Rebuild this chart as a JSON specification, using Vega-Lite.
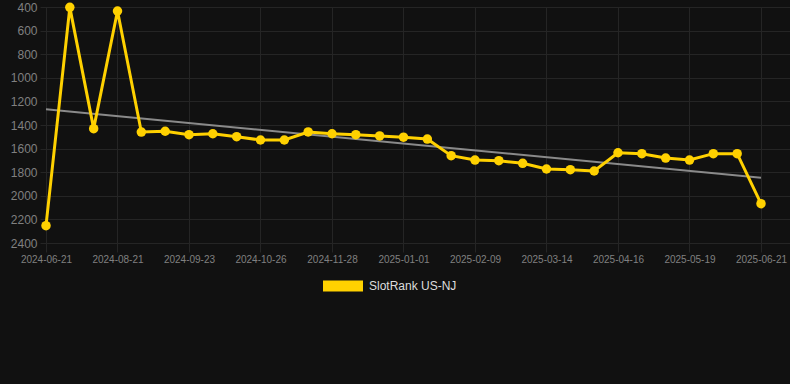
{
  "$schema": "https://vega.github.io/schema/vega-lite/v6.json",
  "width": 750,
  "height": 236,
  "autosize": {"type": "none"},
  "padding": {"left": 40, "top": 7, "right": 0, "bottom": 141},
  "background": "#111111",
  "config": {
    "view": {"stroke": null},
    "font": "Arial, Liberation Sans, sans-serif"
  },
  "datasets": {
    "ranks": [
      {"date": "2024-06-21", "rank": 2253, "series": "SlotRank US-NJ"},
      {"date": "2024-07-11", "rank": 403, "series": "SlotRank US-NJ"},
      {"date": "2024-08-01", "rank": 1431, "series": "SlotRank US-NJ"},
      {"date": "2024-08-21", "rank": 434, "series": "SlotRank US-NJ"},
      {"date": "2024-09-01", "rank": 1460, "series": "SlotRank US-NJ"},
      {"date": "2024-09-12", "rank": 1453, "series": "SlotRank US-NJ"},
      {"date": "2024-09-23", "rank": 1482, "series": "SlotRank US-NJ"},
      {"date": "2024-10-04", "rank": 1474, "series": "SlotRank US-NJ"},
      {"date": "2024-10-15", "rank": 1499, "series": "SlotRank US-NJ"},
      {"date": "2024-10-26", "rank": 1527, "series": "SlotRank US-NJ"},
      {"date": "2024-11-06", "rank": 1527, "series": "SlotRank US-NJ"},
      {"date": "2024-11-17", "rank": 1459, "series": "SlotRank US-NJ"},
      {"date": "2024-11-28", "rank": 1474, "series": "SlotRank US-NJ"},
      {"date": "2024-12-09", "rank": 1482, "series": "SlotRank US-NJ"},
      {"date": "2024-12-20", "rank": 1493, "series": "SlotRank US-NJ"},
      {"date": "2025-01-01", "rank": 1503, "series": "SlotRank US-NJ"},
      {"date": "2025-01-14", "rank": 1519, "series": "SlotRank US-NJ"},
      {"date": "2025-01-27", "rank": 1660, "series": "SlotRank US-NJ"},
      {"date": "2025-02-09", "rank": 1697, "series": "SlotRank US-NJ"},
      {"date": "2025-02-20", "rank": 1702, "series": "SlotRank US-NJ"},
      {"date": "2025-03-03", "rank": 1725, "series": "SlotRank US-NJ"},
      {"date": "2025-03-14", "rank": 1773, "series": "SlotRank US-NJ"},
      {"date": "2025-03-25", "rank": 1779, "series": "SlotRank US-NJ"},
      {"date": "2025-04-05", "rank": 1790, "series": "SlotRank US-NJ"},
      {"date": "2025-04-16", "rank": 1635, "series": "SlotRank US-NJ"},
      {"date": "2025-04-27", "rank": 1643, "series": "SlotRank US-NJ"},
      {"date": "2025-05-08", "rank": 1680, "series": "SlotRank US-NJ"},
      {"date": "2025-05-19", "rank": 1697, "series": "SlotRank US-NJ"},
      {"date": "2025-05-30", "rank": 1643, "series": "SlotRank US-NJ"},
      {"date": "2025-06-10", "rank": 1643, "series": "SlotRank US-NJ"},
      {"date": "2025-06-21", "rank": 2067, "series": "SlotRank US-NJ"}
    ],
    "trend": [
      {"date": "2024-06-21", "rank": 1267},
      {"date": "2025-06-21", "rank": 1847}
    ]
  },
  "encoding": {
    "x": {
      "field": "date",
      "type": "ordinal",
      "scale": {
        "type": "point",
        "padding": 0.7343,
        "align": 0.1714,
        "domain": ["2024-06-21", "2024-07-11", "2024-08-01", "2024-08-21", "2024-09-01", "2024-09-12", "2024-09-23", "2024-10-04", "2024-10-15", "2024-10-26", "2024-11-06", "2024-11-17", "2024-11-28", "2024-12-09", "2024-12-20", "2025-01-01", "2025-01-14", "2025-01-27", "2025-02-09", "2025-02-20", "2025-03-03", "2025-03-14", "2025-03-25", "2025-04-05", "2025-04-16", "2025-04-27", "2025-05-08", "2025-05-19", "2025-05-30", "2025-06-10", "2025-06-21"]
      },
      "axis": {
        "title": null,
        "values": ["2024-06-21", "2024-08-21", "2024-09-23", "2024-10-26", "2024-11-28", "2025-01-01", "2025-02-09", "2025-03-14", "2025-04-16", "2025-05-19", "2025-06-21"],
        "labelAngle": 0,
        "labelFontSize": 10,
        "labelColor": "#808080",
        "labelPadding": 2,
        "labelOverlap": false,
        "grid": true,
        "gridColor": "#252525",
        "gridWidth": 1,
        "ticks": true,
        "tickSize": 9,
        "tickColor": "#252525",
        "domain": false
      }
    },
    "y": {
      "field": "rank",
      "type": "quantitative",
      "scale": {"domain": [400, 2400], "reverse": true, "nice": false, "zero": false},
      "axis": {
        "title": null,
        "format": "d",
        "values": [400, 600, 800, 1000, 1200, 1400, 1600, 1800, 2000, 2200, 2400],
        "labelFontSize": 12,
        "labelColor": "#808080",
        "labelPadding": 3,
        "ticks": false,
        "domain": false,
        "grid": true,
        "gridColor": "#252525",
        "gridWidth": 1
      }
    }
  },
  "layer": [
    {
      "data": {"name": "trend"},
      "mark": {"type": "line", "color": "#8a8a8a", "strokeWidth": 2}
    },
    {
      "data": {"name": "ranks"},
      "mark": {"type": "line", "color": "#FFD100", "strokeWidth": 3}
    },
    {
      "data": {"name": "ranks"},
      "mark": {"type": "point", "filled": true, "size": 90, "opacity": 1},
      "encoding": {
        "color": {
          "field": "series",
          "type": "nominal",
          "scale": {"domain": ["SlotRank US-NJ"], "range": ["#FFD100"]},
          "legend": {
            "title": null,
            "orient": "none",
            "legendX": 283,
            "legendY": 259,
            "symbolType": "M-1,-0.28H1V0.28H-1Z",
            "symbolSize": 1600,
            "symbolStrokeWidth": 0,
            "symbolOpacity": 1,
            "labelFontSize": 12,
            "labelColor": "#dddddd",
            "labelOffset": 6
          }
        }
      }
    }
  ]
}
